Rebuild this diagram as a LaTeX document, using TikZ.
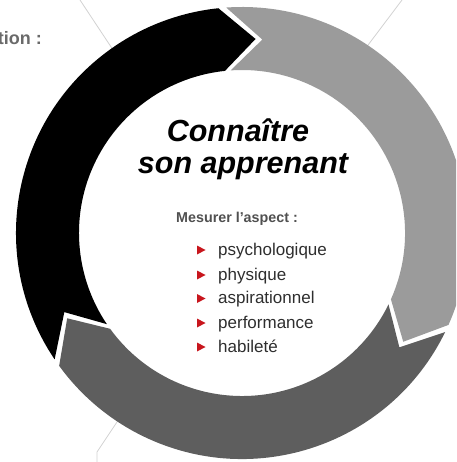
\documentclass[tikz,border=0pt]{standalone}
\usepackage{fontspec}
\setmainfont{Liberation Sans}

\definecolor{ringlight}{HTML}{9B9B9B}
\definecolor{ringdark}{HTML}{5E5E5E}
\definecolor{bulletred}{HTML}{C8161D}
\definecolor{labelgray}{HTML}{505050}
\definecolor{itemgray}{HTML}{2E2E2E}
\definecolor{wiregray}{HTML}{D2D2D2}
\definecolor{cornergray}{HTML}{6A6A6A}

% ring geometry (pt)
\def\Ro{226}
\def\Ri{163}
\def\Rm{194.5}
\def\gap{2}

% one curved chevron arrow: #1 = tip angle, #2 = tip angle of the arrow behind it, #3 = colour
\newcommand{\cyclearrow}[3]{%
  \fill[#3] ({#1+10}:\Ro pt) -- ({#1}:\Rm pt) -- ({#1+10}:\Ri pt)
    arc[start angle={#1+10}, end angle={#2+10-\gap}, radius=\Ri pt]
    -- ({#2-\gap}:\Rm pt) -- ({#2+10-\gap}:\Ro pt)
    arc[start angle={#2+10-\gap}, end angle={#1+10}, radius=\Ro pt] -- cycle;}

\tikzset{
  wire/.style={draw=wiregray, line width=0.8pt},
  titletext/.style={font=\fontsize{30.5}{30}\selectfont\bfseries\itshape, text=black, anchor=base, inner sep=0pt},
  measuretext/.style={font=\fontsize{14.3}{15}\selectfont\bfseries, text=labelgray, anchor=base, inner sep=0pt},
  itemtext/.style={font=\fontsize{17}{18}\selectfont, text=itemgray, anchor=base west, inner sep=0pt},
  cornertext/.style={font=\fontsize{18}{18}\selectfont\bfseries, text=cornergray, anchor=base east, inner sep=0pt},
}

\begin{document}
\begin{tikzpicture}[x=1pt,y=1pt]
  \useasboundingbox (0,0) rectangle (456,-462);
  \clip (0,0) rectangle (456,-462);

  % cropped neighbouring label
  \node[cornertext] (corner) at (42,-45) {tion :};

  % connector stubs running in under the ring
  \coordinate (w1a) at (80,0);    \coordinate (w1b) at (125,-68);
  \coordinate (w2a) at (402,0);   \coordinate (w2b) at (350,-69);
  \coordinate (w3a) at (97,-462); \coordinate (w3k) at (97,-452); \coordinate (w3b) at (125,-410);
  \draw[wire] (w1a) -- (w1b);
  \draw[wire] (w2a) -- (w2b);
  \draw[wire] (w3a) -- (w3k) -- (w3b);

  % the three-arrow cycle
  \begin{scope}[shift={(242,-233)}]
    \cyclearrow{86}{206}{black}
    \cyclearrow{-34}{86}{ringlight}
    \cyclearrow{-154}{-34}{ringdark}
  \end{scope}

  % centre text
  \node[titletext] (title1) at (238,-142) {Connaître};
  \node[titletext] (title2) at (243,-174) {son apprenant};
  \node[measuretext] (measure) at (237,-222) {Mesurer l'aspect :};

  \node[itemtext] (item1) at (218,-255) {psychologique};
  \node[itemtext] (item2) at (218,-280) {physique};
  \node[itemtext] (item3) at (218,-303.5) {aspirationnel};
  \node[itemtext] (item4) at (218,-328) {performance};
  \node[itemtext] (item5) at (218,-352) {habileté};

  \foreach \n in {item1,item2,item3,item4,item5}
    \fill[bulletred] ([xshift=-21pt,yshift=0.5pt]\n.base west) -- ++(8.5,4.5) -- ++(-8.5,4.5) -- cycle;
\end{tikzpicture}
\end{document}
